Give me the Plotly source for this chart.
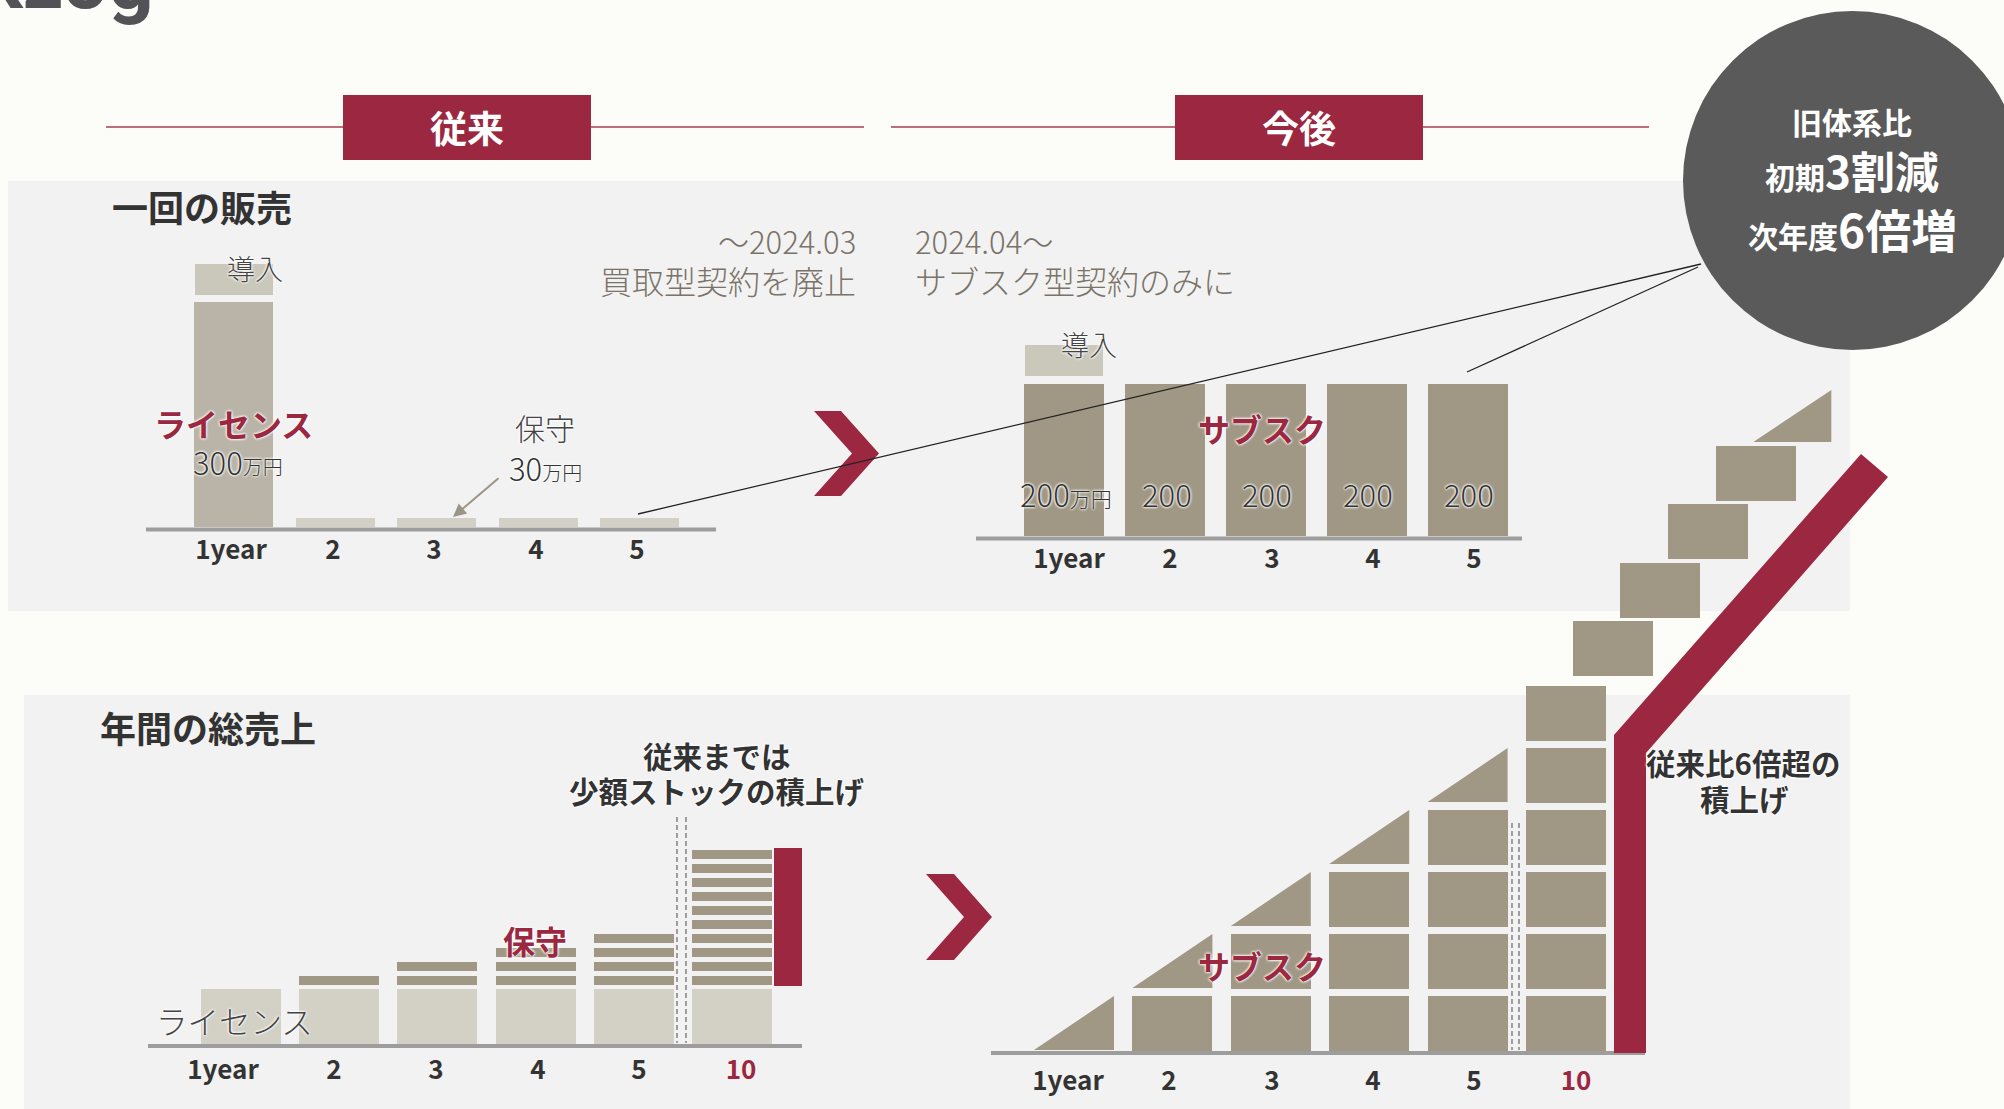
import plotly.graph_objects as go

W, H = 2004, 1109


def X(p):
    return p / W


def Y(p):
    return 1 - p / H


CRIMSON = "#9b2740"
DARK = "#a09884"
MID = "#b9b4a7"
LIGHT = "#d3d0c5"
INTRO = "#cac7bb"
TXT = "#333333"
SUB = "#7a7368"
PANEL = "#f2f2f2"
BG = "#fcfcf8"
FONT = "Noto Sans CJK JP, Noto Sans, sans-serif"
HALO = "0px 0px 3px #ffffff, 0px 0px 3px #ffffff, 0px 0px 2px #ffffff"

# ---------------- data ----------------
# 一回の販売 (従来)
A_years = ["1year", "2", "3", "4", "5"]
A_bar = [300, 12, 12, 12, 12]          # drawn heights (万円 scale)
A_intro = 41
# 一回の販売 (今後)
B_years = ["1year", "2", "3", "4", "5"]
B_bar = [200, 200, 200, 200, 200]
B_intro = 41
B_labels = ["200", "200", "200", "200", "200"]
# 年間の総売上 (従来)
C_years = ["1year", "2", "3", "4", "5", "10"]
C_license = [1, 1, 1, 1, 1, 1]
C_stripes = [0, 1, 2, 3, 4, 10]
# 年間の総売上 (今後)
D_years = ["1year", "2", "3", "4", "5", "10"]
D_blocks = [0, 1, 2, 3, 4, 6]
D_triangle = [1, 1, 1, 1, 1, 0]
D_stairs = 4

fig = go.Figure()


def axes(n, xdom, ydom, c0, pitch, yscale, tick_px, ticktext, standoff):
    x0, x1 = xdom
    ytop, ybot = ydom
    sfx = "" if n == 1 else str(n)
    xa = dict(domain=[X(x0), X(x1)],
              range=[1 + (x0 - c0) / pitch, 1 + (x1 - c0) / pitch],
              showgrid=False, zeroline=False, showline=False, ticks="",
              tickmode="array",
              tickvals=[1 + (p - c0) / pitch for p in tick_px],
              ticktext=ticktext,
              tickfont=dict(family=FONT, size=26, color=TXT, weight=700),
              ticklabelstandoff=standoff, anchor="y" + sfx, fixedrange=True)
    ya = dict(domain=[Y(ybot), Y(ytop)], range=[0, (ybot - ytop) / yscale],
              visible=False, anchor="x" + sfx, fixedrange=True)
    fig.layout["xaxis" + sfx] = xa
    fig.layout["yaxis" + sfx] = ya
    return "x" + sfx, "y" + sfx


def red(t):
    return "<span style='color:%s'>%s</span>" % (CRIMSON, t)


# ---- chart A
A_pitch = 101.5
xa, ya = axes(1, (146, 716), (240, 527), 233.5, A_pitch, 0.75,
              [231, 333, 434, 536, 637], A_years, 5)
ax_x = list(range(1, len(A_years) + 1))
fig.add_bar(x=ax_x, y=A_bar, width=79 / A_pitch, xaxis=xa, yaxis=ya,
            marker=dict(color=[MID] + [LIGHT] * (len(A_bar) - 1), line_width=0))
fig.add_bar(x=[1], y=[A_intro], base=[A_bar[0] + 10], width=78 / A_pitch,
            xaxis=xa, yaxis=ya, marker=dict(color=INTRO, line_width=0))

# ---- chart B
B_pitch = 101
xb, yb = axes(2, (976, 1522), (290, 536), 1064, B_pitch, 0.76,
              [1069, 1170, 1272, 1373, 1474], B_years, 5)
bx = list(range(1, len(B_years) + 1))
fig.add_bar(x=bx, y=B_bar, width=80 / B_pitch, xaxis=xb, yaxis=yb,
            marker=dict(color=DARK, line_width=0))
fig.add_bar(x=[1], y=[B_intro], base=[B_bar[0] + 10], width=78 / B_pitch,
            xaxis=xb, yaxis=yb, marker=dict(color=INTRO, line_width=0))

# ---- chart C
C_pitch = 98.2
LIC_H, ST_H, ST_GAP, ST_P = 55, 9, 4, 14
xc, yc = axes(3, (148, 802), (800, 1044), 241, C_pitch, 1.0,
              [223, 334, 436, 538, 639, 741],
              C_years[:-1] + [red(C_years[-1])], 8)
cx = list(range(1, len(C_years) + 1))
fig.add_bar(x=cx, y=[v * LIC_H for v in C_license], width=80 / C_pitch,
            xaxis=xc, yaxis=yc, marker=dict(color=LIGHT, line_width=0))
sx, sb = [], []
for i, n in enumerate(C_stripes):
    for j in range(n):
        sx.append(cx[i])
        sb.append(LIC_H + ST_GAP + j * ST_P)
fig.add_bar(x=sx, y=[ST_H] * len(sx), base=sb, width=80 / C_pitch,
            xaxis=xc, yaxis=yc, marker=dict(color=DARK, line_width=0))
n10 = C_stripes[-1]
fig.add_bar(x=[cx[-1] + 56 / C_pitch], y=[n10 * ST_P - (ST_P - ST_H) + 3],
            base=[LIC_H + ST_GAP - 1], width=28 / C_pitch,
            xaxis=xc, yaxis=yc, marker=dict(color=CRIMSON, line_width=0))

# ---- chart D
D_pitch = 98.4
BLK, ROW, STP = 55, 62, 58.5
xd, yd = axes(4, (991, 1850), (380, 1051), 1074, D_pitch, 1.0,
              [1068, 1169, 1272, 1373, 1474, 1576],
              D_years[:-1] + [red(D_years[-1])], 12)
dx = list(range(1, len(D_years) + 1))
qx, qb = [], []
for i, n in enumerate(D_blocks):
    for j in range(n):
        qx.append(dx[i])
        qb.append(j * ROW)
STAIR_SHIFT = [0.48, 0.96, 1.44, 1.93]
top0 = D_blocks[-1] * ROW + 3
for k in range(D_stairs):
    qx.append(dx[-1] + STAIR_SHIFT[k])
    qb.append(top0 + k * STP)
fig.add_bar(x=qx, y=[BLK] * len(qx), base=qb, width=80 / D_pitch,
            xaxis=xd, yaxis=yd, marker=dict(color=DARK, line_width=0))
hw = 40 / D_pitch
tx, ty = [], []
for i, t in enumerate(D_triangle):
    if t:
        b = D_blocks[i] * ROW + 1
        tx += [dx[i] - hw, dx[i] + hw, dx[i] + hw, dx[i] - hw, None]
        ty += [b, b, b + BLK - 1, b, None]
# last stair triangle
c = dx[-1] + 2.30
b = top0 + D_stairs * STP
tx += [c - 39 / D_pitch, c + 39 / D_pitch, c + 39 / D_pitch, c - 39 / D_pitch, None]
ty += [b, b, b + 52, b, None]
fig.add_scatter(x=tx, y=ty, mode="lines", fill="toself", fillcolor=DARK,
                line=dict(width=0, color=DARK), xaxis=xd, yaxis=yd,
                hoverinfo="skip", cliponaxis=False)

# ---------------- decorations ----------------
shapes = []


def rect(x0, y0, x1, y1, color, layer="below"):
    shapes.append(dict(type="rect", xref="paper", yref="paper", x0=X(x0), x1=X(x1),
                       y0=Y(y1), y1=Y(y0), fillcolor=color, line_width=0, layer=layer))


def line(x0, y0, x1, y1, color, width, dash="solid", layer="above"):
    shapes.append(dict(type="line", xref="paper", yref="paper", x0=X(x0), y0=Y(y0),
                       x1=X(x1), y1=Y(y1), line=dict(color=color, width=width, dash=dash),
                       layer=layer))


def poly(pts, color, layer="above"):
    p = "M" + " L".join("%f,%f" % (X(a), Y(b)) for a, b in pts) + " Z"
    shapes.append(dict(type="path", xref="paper", yref="paper", path=p,
                       fillcolor=color, line_width=0, layer=layer))


rect(8, 181, 1850, 611, PANEL)
rect(24, 695, 1850, 1115, PANEL)
line(106, 127, 864, 127, "#a8404f", 1.5, layer="below")
line(891, 127, 1649, 127, "#a8404f", 1.5, layer="below")
rect(343, 95, 591, 160, CRIMSON)
rect(1175, 95, 1423, 160, CRIMSON)
# baselines
line(146, 529.5, 716, 529.5, "#9d9d9d", 4)
line(976, 538.5, 1522, 538.5, "#9d9d9d", 4)
line(148, 1046, 802, 1046, "#9d9d9d", 4)
line(991, 1053, 1645, 1053, "#9d9d9d", 4)
# dashed separators
for xx in (677, 686):
    line(xx, 817, xx, 1043, "#666666", 1.2, dash="5px,3px")
for xx in (1512, 1519):
    line(xx, 823, xx, 1050, "#666666", 1.2, dash="5px,3px")
# chevrons
poly([(814, 411), (841, 411), (879, 453.5), (841, 496), (814, 496), (852, 453.5)], CRIMSON)
poly([(926, 874), (954, 874), (992, 917), (954, 960), (926, 960), (964, 917)], CRIMSON)
# red growth line
poly([(1614, 1053), (1614, 735), (1861, 454), (1888, 477), (1646, 753), (1646, 1053)], CRIMSON)
# connector lines & circle
line(638, 514, 1701, 264, "#222222", 1.3)
line(1467, 372, 1698, 267, "#222222", 1.3)
shapes.append(dict(type="circle", xref="paper", yref="paper", x0=X(1683), x1=X(2022),
                   y0=Y(350), y1=Y(11), fillcolor="#5a5a5a", line_width=0, layer="above"))

# ---------------- texts ----------------
anns = []


def T(text, x, y, size, color=TXT, weight=400, xanchor="center", halo=False):
    anns.append(dict(text=text, x=X(x), y=Y(y), xref="paper", yref="paper",
                     showarrow=False, xanchor=xanchor, yanchor="middle", borderpad=0,
                     font=dict(family=FONT, size=size, color=color, weight=weight,
                               shadow=HALO if halo else "none")))


def small(t, s):
    return "<span style='font-size:%dpx'>%s</span>" % (s, t)


anns.append(dict(text="kzog", x=X(156), y=Y(30), xref="paper", yref="paper",
                 showarrow=False, xanchor="right", yanchor="bottom",
                 font=dict(family="Roboto, Inter, sans-serif", size=80, color="#525257",
                           weight=700)))
T("従来", 467, 127, 37, "#ffffff", 700)
T("今後", 1299, 127, 37, "#ffffff", 700)
T("一回の販売", 111, 206, 36, TXT, 700, "left")
T("年間の総売上", 99, 727, 36, TXT, 700, "left")
T("～2024.03", 857, 240, 31, SUB, 300, "right")
T("買取型契約を廃止", 857, 280, 32, SUB, 300, "right")
T("2024.04～", 914, 240, 31, SUB, 300, "left")
T("サブスク型契約のみに", 914, 280, 32, SUB, 300, "left")
# circle
T("旧体系比", 1852, 121, 30, "#ffffff", 700)
T("初期" + small("3割減", 44), 1852, 170, 30, "#ffffff", 700)
T("次年度" + small("6倍増", 46), 1852, 228, 30, "#ffffff", 700)
# chart A
T("導入", 255, 268, 28, "#444444", 300, halo=True)
T("ライセンス", 233, 423, 32, CRIMSON, 700, halo=True)
T(str(A_bar[0]) + small("万円", 20), 238, 461, 31, "#333333", 300, halo=True)
T("保守", 545, 427, 30, "#444444", 300, halo=True)
T("30" + small("万円", 20), 545, 467, 31, "#333333", 300, halo=True)
anns.append(dict(text="", x=X(453), y=Y(517), xref="paper", yref="paper",
                 ax=47, ay=-40, showarrow=True, arrowhead=2, arrowsize=1.3,
                 arrowwidth=2, arrowcolor="#9c9484"))
# chart B
T("導入", 1089, 344, 28, "#444444", 300, halo=True)
T("サブスク", 1262, 428, 32, CRIMSON, 700, halo=True)
b_px = [1066, 1167, 1267, 1368, 1469]
for i, lab in enumerate(B_labels):
    txt = lab + small("万円", 21) if i == 0 else lab
    T(txt, b_px[i], 493, 31, "#333333", 300, halo=True)
# chart C
T("従来までは", 717, 755, 29.5, TXT, 700, halo=True)
T("少額ストックの積上げ", 717, 790, 29.5, TXT, 700, halo=True)
T("保守", 535, 940, 32, CRIMSON, 700, halo=True)
T("ライセンス", 155, 1020, 31.5, "#444444", 300, "left", halo=True)
# chart D
T("サブスク", 1262, 965, 32, CRIMSON, 700, halo=True)
T("従来比6倍超の", 1743, 762, 29.5, TXT, 700, halo=True)
T("積上げ", 1744, 798, 29.5, TXT, 700, halo=True)

fig.update_layout(width=W, height=H, autosize=False,
                  margin=dict(l=0, r=0, t=0, b=0, pad=0),
                  paper_bgcolor=BG, plot_bgcolor="rgba(0,0,0,0)",
                  showlegend=False, barmode="overlay", bargap=0,
                  shapes=shapes, annotations=anns, hovermode=False)

fig.write_html("out.html", config={"displayModeBar": False})
